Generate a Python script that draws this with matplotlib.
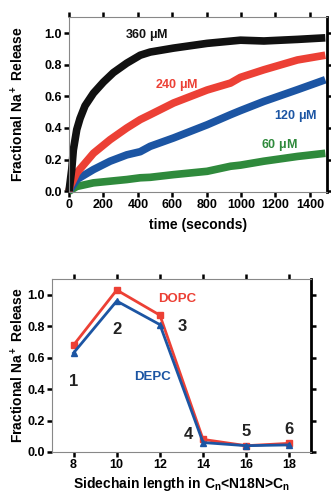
import numpy as np
import matplotlib
matplotlib.use('Agg')
import matplotlib.pyplot as plt

plt.rcParams['font.family'] = ['Liberation Sans', 'DejaVu Sans']
plt.rcParams['font.weight'] = 'bold'
plt.rcParams['mathtext.fontset'] = 'custom'
plt.rcParams['mathtext.rm'] = 'Liberation Sans:bold'
plt.rcParams['mathtext.it'] = 'Liberation Sans:bold'

# top panel: release traces (time s, fraction)
t_360 = [0, 16, 25, 45, 64, 93, 142, 200, 258, 336, 414, 472, 608, 803, 997, 1133, 1328, 1490]
v_360 = [0, 0.14, 0.26, 0.39, 0.46, 0.54, 0.62, 0.69, 0.75, 0.81, 0.86, 0.88, 0.905, 0.935, 0.955, 0.95, 0.96, 0.97]
t_240 = [0, 6, 45, 142, 239, 336, 414, 472, 608, 803, 939, 997, 1133, 1328, 1490]
v_240 = [0, 0.03, 0.116, 0.24, 0.326, 0.40, 0.453, 0.484, 0.558, 0.64, 0.684, 0.72, 0.768, 0.83, 0.86]
t_120 = [0, 45, 142, 239, 336, 414, 472, 608, 803, 939, 997, 1133, 1328, 1490]
v_120 = [0, 0.074, 0.137, 0.19, 0.23, 0.25, 0.284, 0.337, 0.42, 0.484, 0.51, 0.568, 0.642, 0.705]
t_60 = [0, 45, 142, 336, 414, 472, 608, 803, 939, 997, 1133, 1328, 1490]
v_60 = [0, 0.03, 0.053, 0.074, 0.085, 0.088, 0.105, 0.126, 0.158, 0.165, 0.19, 0.22, 0.24]

# bottom panel: release vs sidechain length
chain = [8, 10, 12, 14, 16, 18]
dopc = [0.68, 1.03, 0.87, 0.08, 0.04, 0.055]
depc = [0.63, 0.96, 0.81, 0.06, 0.04, 0.045]
point_labels = ['1', '2', '3', '4', '5', '6']
label_x = [8, 10, 13.05, 13.3, 16, 18]
label_y = [0.45, 0.78, 0.80, 0.11, 0.13, 0.14]

black, red, blue, green = '#111111', '#ec4035', '#1c55a3', '#2f8a3c'

fig = plt.figure(figsize=(3.31, 4.93), dpi=100)
ax1 = fig.add_axes([0.2085, 0.6105, 0.7795, 0.3545])
ax2 = fig.add_axes([0.157, 0.0832, 0.7826, 0.3508])


def style(ax):
    for s in ['left', 'bottom', 'top']:
        ax.spines[s].set_color('#888888')
        ax.spines[s].set_linewidth(0.8)
    ax.spines['right'].set_color('black')
    ax.spines['right'].set_linewidth(2)
    ax.tick_params(direction='out', length=3.5, width=1.8, labelsize=9,
                   top=True, right=True, labeltop=False, labelright=False, pad=1.5)


for t, v, c in [(t_60, v_60, green), (t_120, v_120, blue), (t_240, v_240, red), (t_360, v_360, black)]:
    ax1.plot(t, v, color=c, lw=5.5, solid_capstyle='butt', clip_on=False)
ax1.set_xlim(0, 1500)
ax1.set_ylim(-0.005, 1.1)
ax1.set_xticks(np.arange(0, 1500, 200))
ax1.set_yticks(np.arange(0, 1.01, 0.2))
ax1.set_yticklabels(['%.1f' % y for y in np.arange(0, 1.01, 0.2)])
style(ax1)
ax1.set_xlabel('time (seconds)', fontsize=10, fontweight='bold')
ax1.set_ylabel('Fractional Na$^+$ Release', fontsize=10, fontweight='bold')
ax1.xaxis.set_label_coords(0.5, -0.15)
ax1.yaxis.set_label_coords(-0.166, 0.5)
ax1.text(453, 0.99, '360 $\\mu$M', color=black, fontsize=9, ha='center', va='center')
ax1.text(628, 0.674, '240 $\\mu$M', color=red, fontsize=9, ha='center', va='center')
ax1.text(1318, 0.475, '120 $\\mu$M', color=blue, fontsize=9, ha='center', va='center')
ax1.text(1220, 0.295, '60 $\\mu$M', color=green, fontsize=9, ha='center', va='center')

ax2.plot(chain, dopc, color=red, lw=2, marker='s', ms=5, clip_on=False, zorder=3)
ax2.plot(chain, depc, color=blue, lw=2, marker='^', ms=5, clip_on=False, zorder=4)
ax2.set_xlim(7, 19)
ax2.set_ylim(0, 1.1)
ax2.set_xticks(chain)
ax2.set_yticks(np.arange(0, 1.01, 0.2))
ax2.set_yticklabels(['%.1f' % y for y in np.arange(0, 1.01, 0.2)])
style(ax2)
for lab, x, y in zip(point_labels, label_x, label_y):
    ax2.text(x, y, lab, fontsize=12, ha='center', va='center', color='#222222')
ax2.text(12.8, 0.975, 'DOPC', color=red, fontsize=9.5, ha='center', va='center')
ax2.text(11.64, 0.48, 'DEPC', color=blue, fontsize=9.5, ha='center', va='center')
ax2.set_xlabel('Sidechain length in C$_n$<N18N>C$_n$', fontsize=10, fontweight='bold')
ax2.set_ylabel('Fractional Na$^+$ Release', fontsize=10, fontweight='bold')
ax2.xaxis.set_label_coords(0.498, -0.135)
ax2.yaxis.set_label_coords(-0.100, 0.5)

fig.savefig('out.png', dpi=100)
